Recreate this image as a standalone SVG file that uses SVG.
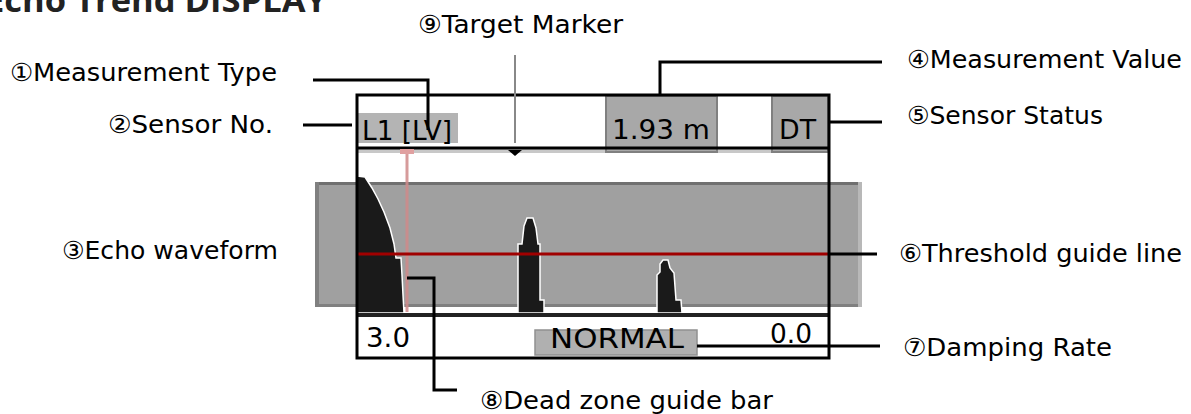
<svg xmlns="http://www.w3.org/2000/svg" width="1191" height="414" viewBox="0 0 1191 414">
<style>
.lbl{font-family:"DejaVu Sans","Liberation Sans",sans-serif;font-size:25px;fill:#000}
.disp{font-family:"DejaVu Sans","Liberation Sans",sans-serif;font-size:27px;fill:#000}
.ldr{fill:none;stroke:#000;stroke-width:3}
.wave{fill:#1a1a1a;stroke:#fff;stroke-width:1.5}
</style>
<rect width="1191" height="414" fill="#fff"/>
<text x="-15" y="12" font-family="'Open Sans','Liberation Sans',sans-serif" font-weight="bold" font-size="32" fill="#222" textLength="342" lengthAdjust="spacingAndGlyphs">Echo Trend DISPLAY</text>

<g id="display">
  <rect x="357" y="95" width="472" height="263" fill="#fff"/>
  <rect x="357" y="149" width="472" height="4" fill="#c8c8c8"/>
  <rect id="band" x="315" y="182" width="547" height="125" fill="#a0a0a0"/>
  <rect x="315" y="182" width="547" height="3" fill="#707070"/>
  <rect x="315" y="304" width="547" height="3" fill="#808080"/>
  <rect x="315" y="182" width="4" height="125" fill="#808080"/>
  <rect x="858" y="182" width="4" height="125" fill="#b8b8b8"/>
  <g id="header">
    <rect x="358" y="113" width="100" height="30" fill="#b4b4b4"/>
    <text class="disp" x="362" y="140" textLength="90" lengthAdjust="spacingAndGlyphs">L1 [LV]</text>
    <rect x="606" y="96" width="111" height="56" fill="#a8a8a8" stroke="#808080" stroke-width="2"/>
    <text class="disp" x="612" y="139" textLength="98" lengthAdjust="spacingAndGlyphs">1.93 m</text>
    <rect x="772" y="96" width="56" height="56" fill="#a8a8a8" stroke="#808080" stroke-width="2"/>
    <text class="disp" x="779" y="139" textLength="37" lengthAdjust="spacingAndGlyphs">DT</text>
  </g>
  <line x1="357" y1="148" x2="829" y2="148" stroke="#000" stroke-width="3"/>
  <g id="waveform">
    <polygon class="wave" points="357,176 365,177 372,188 378,199 384,212 390,228 394,244 396,258 401,258 402,275 403,295 404,313 357,313"/>
    <polygon class="wave" points="524,226 527,218 533,218 536,228 538,244 540,244 540,300 544,300 544,313 518,313 518,244 522,244"/>
    <polygon class="wave" points="660,264 663,260 668,260 670,268 674,273 676,300 681,300 682,313 657,313 657,275 660,272"/>
  </g>
  <line id="deadzone" x1="407" y1="150" x2="407" y2="312" stroke="#d08a8a" stroke-width="3" opacity="0.85"/>
  <rect x="400" y="149" width="14" height="5" fill="#e0a0a0"/>
  <line id="threshold" x1="357" y1="254" x2="829" y2="254" stroke="#a00000" stroke-width="3"/>
  <polygon id="target" points="508,150 522,150 515,156" fill="#000"/>
  <rect x="357" y="313" width="472" height="4" fill="#222"/>
  <g id="footer">
    <text class="disp" x="366" y="347" textLength="44" lengthAdjust="spacingAndGlyphs">3.0</text>
    <rect x="535" y="330" width="162" height="25" fill="#b0b0b0" stroke="#909090" stroke-width="1.5"/>
    <text class="disp" x="550" y="348" textLength="134" lengthAdjust="spacingAndGlyphs">NORMAL</text>
    <text class="disp" x="770" y="343" textLength="42" lengthAdjust="spacingAndGlyphs">0.0</text>
  </g>
  <rect x="357" y="95" width="472" height="263" fill="none" stroke="#000" stroke-width="3"/>
</g>

<g id="connectors">
  <polyline class="ldr" points="313,80 428,80 428,130"/>
  <polyline class="ldr" points="303,125 352,125"/>
  <polyline class="ldr" points="660,95 660,62 882,62"/>
  <polyline class="ldr" points="829,122 882,122"/>
  <polyline class="ldr" points="829,254 877,254"/>
  <polyline class="ldr" points="697,346 880,346"/>
  <polyline class="ldr" points="407,278 434,278 434,390 457,390"/>
  <line x1="515" y1="55" x2="515" y2="143" stroke="#888" stroke-width="2"/>
</g>

<g id="label-1"><text class="lbl" x="10" y="81" textLength="267" lengthAdjust="spacingAndGlyphs">①Measurement Type</text></g>
<g id="label-2"><text class="lbl" x="108" y="133" textLength="165" lengthAdjust="spacingAndGlyphs">②Sensor No.</text></g>
<g id="label-3"><text class="lbl" x="62" y="259" textLength="216" lengthAdjust="spacingAndGlyphs">③Echo waveform</text></g>
<g id="label-4"><text class="lbl" x="907" y="68" textLength="275" lengthAdjust="spacingAndGlyphs">④Measurement Value</text></g>
<g id="label-5"><text class="lbl" x="907" y="124" textLength="196" lengthAdjust="spacingAndGlyphs">⑤Sensor Status</text></g>
<g id="label-6"><text class="lbl" x="899" y="262" textLength="283" lengthAdjust="spacingAndGlyphs">⑥Threshold guide line</text></g>
<g id="label-7"><text class="lbl" x="903" y="356" textLength="209" lengthAdjust="spacingAndGlyphs">⑦Damping Rate</text></g>
<g id="label-8"><text class="lbl" x="480" y="409" textLength="293" lengthAdjust="spacingAndGlyphs">⑧Dead zone guide bar</text></g>
<g id="label-9"><text class="lbl" x="418" y="33" textLength="205" lengthAdjust="spacingAndGlyphs">⑨Target Marker</text></g>
</svg>
